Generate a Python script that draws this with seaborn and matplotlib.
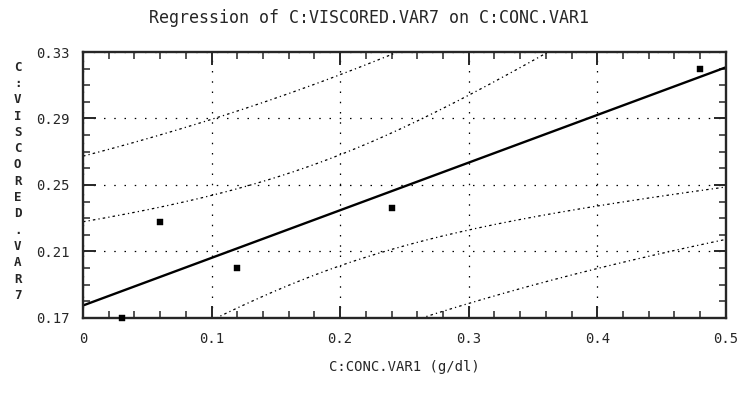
import numpy as np
import pandas as pd
import matplotlib
matplotlib.use('Agg')
import matplotlib.pyplot as plt
import seaborn as sns
from matplotlib.ticker import MultipleLocator

# data
conc = [0.03, 0.06, 0.12, 0.24, 0.48]
visc = [0.170, 0.228, 0.200, 0.236, 0.320]
x_ticks = [0, 0.1, 0.2, 0.3, 0.4, 0.5]
x_labels = ['0', '0.1', '0.2', '0.3', '0.4', '0.5']
y_ticks = [0.17, 0.21, 0.25, 0.29, 0.33]
y_labels = ['0.17', '0.21', '0.25', '0.29', '0.33']
t_crit = 3.182  # t(0.975, df=3)

df = pd.DataFrame({'conc': conc, 'visc': visc})

# least squares fit + 95% confidence / prediction bands
x = df['conc'].values
y = df['visc'].values
n = len(x)
slope, intercept = np.polyfit(x, y, 1)
resid = y - (intercept + slope * x)
s = np.sqrt((resid ** 2).sum() / (n - 2))
sxx = ((x - x.mean()) ** 2).sum()
grid = np.linspace(0, 0.5, 200)
fit = intercept + slope * grid
se_mean = s * np.sqrt(1 / n + (grid - x.mean()) ** 2 / sxx)
se_pred = s * np.sqrt(1 + 1 / n + (grid - x.mean()) ** 2 / sxx)
bands = pd.DataFrame({
    'x': grid, 'fit': fit,
    'ci_lo': fit - t_crit * se_mean, 'ci_hi': fit + t_crit * se_mean,
    'pi_lo': fit - t_crit * se_pred, 'pi_hi': fit + t_crit * se_pred,
})

sns.set_style('ticks')
plt.rcParams['font.family'] = ['DejaVu Sans Mono', 'DejaVu Sans']

fig = plt.figure(figsize=(7.38, 3.94), dpi=100)
ax = fig.add_axes([0.1125, 0.193, 0.871, 0.675])

sns.lineplot(data=bands, x='x', y='fit', ax=ax, color='black', lw=1.7)
for col in ['ci_lo', 'ci_hi', 'pi_lo', 'pi_hi']:
    sns.lineplot(data=bands, x='x', y=col, ax=ax, color='black', lw=0.9,
                 linestyle=(0, (2, 2.5, 1, 2.5)))
sns.scatterplot(data=df, x='conc', y='visc', ax=ax, marker='s', s=14,
                color='black', edgecolor='black', zorder=5, clip_on=False)

ax.set_xlim(0, 0.5)
ax.set_ylim(0.17, 0.33)
ax.set_xticks(x_ticks)
ax.set_xticklabels(x_labels, fontsize=10)
ax.set_yticks(y_ticks)
ax.set_yticklabels(y_labels, fontsize=10)
ax.xaxis.set_minor_locator(MultipleLocator(0.02))
ax.yaxis.set_minor_locator(MultipleLocator(0.01))
ax.tick_params(which='major', direction='in', length=9, width=1.4,
               top=True, right=True, pad=10)
ax.tick_params(which='minor', direction='in', length=5, width=1.1,
               top=True, right=True)
ax.grid(True, which='major', color='black', linestyle=(0, (1.2, 7)), lw=0.9)
for sp in ax.spines.values():
    sp.set_linewidth(1.7)

ax.set_xlabel('C:CONC.VAR1 (g/dl)', fontsize=10, labelpad=10)
ax.set_ylabel('')
fig.text(0.024, 0.54, '\n'.join('C:VISCORED.VAR7'), fontsize=9,
         ha='center', va='center', linespacing=1.33, fontweight='bold')
fig.text(0.5, 0.955, 'Regression of C:VISCORED.VAR7 on C:CONC.VAR1',
         fontsize=12, ha='center', va='center')

plt.savefig('out.png', dpi=100)
plt.close()
